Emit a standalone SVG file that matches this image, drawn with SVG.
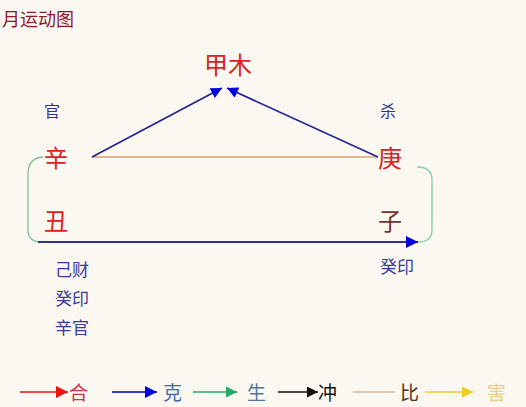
<svg xmlns="http://www.w3.org/2000/svg" width="526" height="407" viewBox="0 0 526 407">
<defs>
<style>
text{font-family:"Noto Sans CJK SC","Noto Sans CJK JP",sans-serif;}
.big{font-size:24px;fill:#dd2222;}
.lbl{font-size:16px;fill:#333399;}
.lst{font-size:17px;fill:#3a3a99;}
.leg{font-size:19px;}
</style>
<marker id="mb" viewBox="0 0 10 10" refX="10" refY="5" markerWidth="12" markerHeight="11" markerUnits="userSpaceOnUse" orient="auto"><path d="M0,0L10,5L0,10z" fill="#0000dd"/></marker>
<marker id="mb2" viewBox="0 0 10 10" refX="10" refY="5" markerWidth="12" markerHeight="12" markerUnits="userSpaceOnUse" orient="auto"><path d="M0,0L10,5L0,10z" fill="#0000dd"/></marker>
<marker id="mr" viewBox="0 0 10 10" refX="10" refY="5" markerWidth="13" markerHeight="12" markerUnits="userSpaceOnUse" orient="auto"><path d="M0,0L10,5L0,10z" fill="#ee1111"/></marker>
<marker id="mg" viewBox="0 0 10 10" refX="10" refY="5" markerWidth="11" markerHeight="11" markerUnits="userSpaceOnUse" orient="auto"><path d="M0,0L10,5L0,10z" fill="#22aa66"/></marker>
<marker id="mk" viewBox="0 0 10 10" refX="10" refY="5" markerWidth="12" markerHeight="11" markerUnits="userSpaceOnUse" orient="auto"><path d="M0,0L10,5L0,10z" fill="#111111"/></marker>
<marker id="my" viewBox="0 0 10 10" refX="10" refY="5" markerWidth="11" markerHeight="11" markerUnits="userSpaceOnUse" orient="auto"><path d="M0,0L10,5L0,10z" fill="#eecc22"/></marker>
</defs>
<rect width="526" height="407" fill="#fbf7f1"/>
<text x="2" y="26" style="font-size:18px;fill:#8b1a2a">月运动图</text>
<g id="connectors" fill="none">
<line x1="92" y1="157" x2="378" y2="157" stroke="#cc7a33" stroke-width="1.2"/>
<line x1="92" y1="157" x2="222" y2="88" stroke="#222299" stroke-width="1.6" marker-end="url(#mb)"/>
<line x1="378" y1="157" x2="227" y2="88" stroke="#222299" stroke-width="1.6" marker-end="url(#mb)"/>
<path d="M43,157 Q29,158 28,172 L28,230 Q28,241 40,242" stroke="#88bb99" stroke-width="1.3"/>
<path d="M417,167 Q432,167 432,180 L432,230 Q432,242 418,242" stroke="#88ccaa" stroke-width="1.3"/>
<line x1="38" y1="242" x2="418" y2="242" stroke="#333388" stroke-width="2" marker-end="url(#mb2)"/>
</g>
<g id="jiamu"><text x="228" y="74" text-anchor="middle" class="big">甲木</text></g>
<g id="guan"><text x="44" y="117" class="lbl">官</text></g>
<g id="sha"><text x="380" y="117" class="lbl">杀</text></g>
<g id="xin"><text x="44" y="167" class="big">辛</text></g>
<g id="chou"><text x="44" y="230" class="big">丑</text></g>
<g id="geng"><text x="378" y="167" class="big">庚</text></g>
<g id="zi"><text x="378" y="230" class="big" style="fill:#7a3030">子</text></g>
<g id="guiyin-r"><text x="380" y="273" class="lst">癸印</text></g>
<g id="list-l">
<text x="55" y="276" class="lst">己财</text>
<text x="55" y="305" class="lst">癸印</text>
<text x="55" y="334" class="lst">辛官</text>
</g>
<g id="legend">
<line x1="20" y1="392" x2="68" y2="392" stroke="#ee1111" stroke-width="1.5" marker-end="url(#mr)"/>
<text x="69" y="400" class="leg" style="fill:#cc3344">合</text>
<line x1="112" y1="392" x2="157" y2="392" stroke="#0000bb" stroke-width="1.5" marker-end="url(#mb2)"/>
<text x="163" y="400" class="leg" style="fill:#4466aa">克</text>
<line x1="193" y1="392" x2="237" y2="392" stroke="#22aa66" stroke-width="1.5" marker-end="url(#mg)"/>
<text x="247" y="400" class="leg" style="fill:#557799">生</text>
<line x1="278" y1="392" x2="318" y2="392" stroke="#111111" stroke-width="1.5" marker-end="url(#mk)"/>
<text x="318" y="400" class="leg" style="fill:#111111">冲</text>
<line x1="353" y1="392" x2="395" y2="392" stroke="#c89a70" stroke-width="1.2"/>
<text x="400" y="400" class="leg" style="fill:#553322">比</text>
<line x1="425" y1="392" x2="473" y2="392" stroke="#eecc22" stroke-width="1.5" marker-end="url(#my)"/>
<text x="487" y="400" class="leg" style="fill:#e8cf90">害</text>
</g>
</svg>
